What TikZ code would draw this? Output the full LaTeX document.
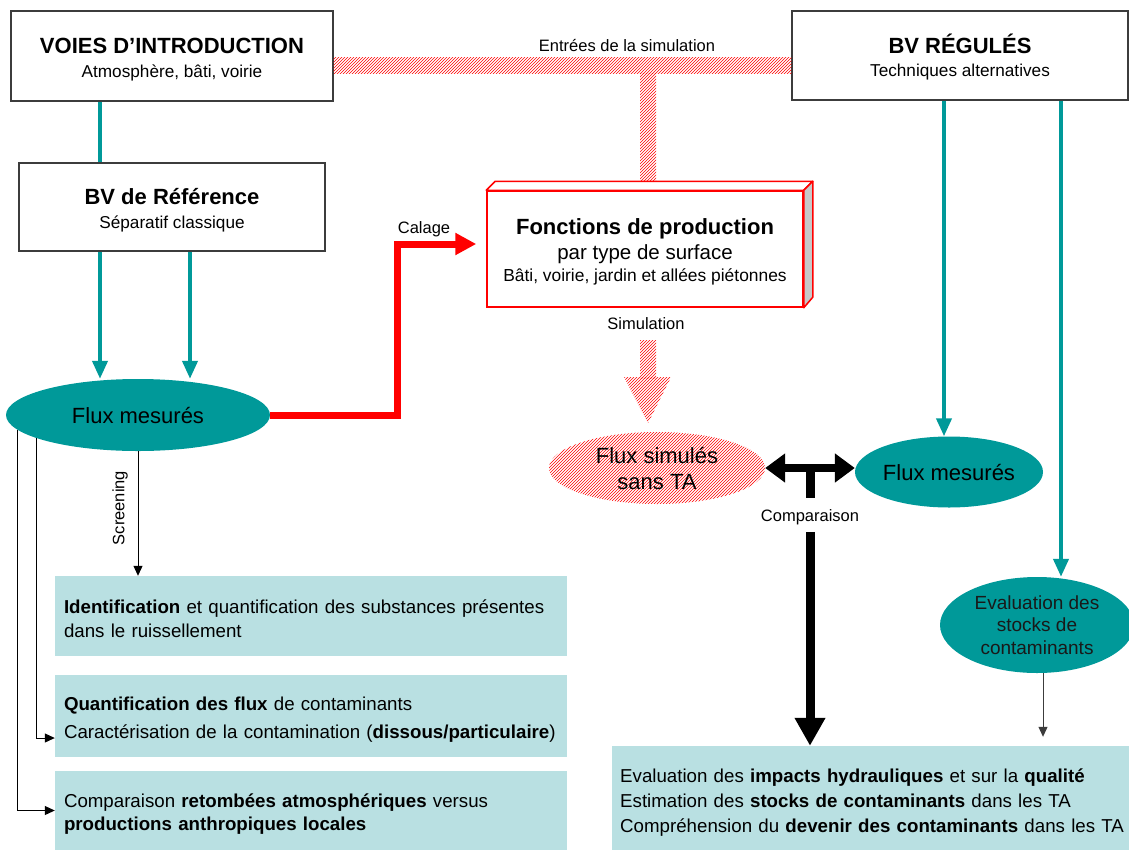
\documentclass[tikz,border=0pt]{standalone}
\usepackage{fontspec}
\setmainfont{Liberation Sans}
\usetikzlibrary{arrows.meta,shapes.geometric,patterns,calc}
\definecolor{tealc}{RGB}{0,153,153}
\definecolor{lblue}{RGB}{185,224,226}
\definecolor{framec}{RGB}{60,60,60}
\definecolor{sidegray}{RGB}{200,200,200}
\begin{document}
\begin{tikzpicture}[x=1pt,y=-1pt,
  topbox/.style={draw=framec, line width=1.4pt, fill=white, inner sep=0pt, align=center,
    font=\fontsize{17.2}{26}\selectfont},
  infobox/.style={fill=lblue, inner ysep=0pt, align=left, font=\fontsize{18.7}{24}\selectfont},
  tealell/.style={ellipse, fill=tealc, inner sep=0pt, align=center},
  hatch/.style={pattern=north east lines, pattern color=red},
  lbl/.style={inner sep=0pt, font=\fontsize{16.5}{20}\selectfont},
  tealline/.style={draw=tealc, line width=4pt},
  tealarrow/.style={draw=tealc, line width=4pt, -{Triangle[length=18pt,width=15pt]}},
  thinarrow/.style={draw=black, line width=1pt, -{Triangle[length=10pt,width=9pt]}},
  bigline/.style={draw=black, line width=9pt}
]
\useasboundingbox (0,0) rectangle (1129,849);

% top boxes and hatched "Entrées de la simulation" bar with stem
\node[topbox, minimum width=322pt, minimum height=90pt] (voies) at (172,56)
  {{\rule{0pt}{22pt}\fontsize{22}{26}\selectfont\bfseries VOIES D’INTRODUCTION}\\[-2pt]Atmosphère, bâti, voirie};
\node[topbox, minimum width=336pt, minimum height=89pt] (bvreg) at (960,55.5)
  {{\rule{0pt}{22pt}\fontsize{22}{26}\selectfont\bfseries BV RÉGULÉS}\\[-3pt]Techniques alternatives};
\fill[hatch] (voies.east |- 0,57) rectangle (bvreg.west |- 0,73);
\fill[hatch] (640,73) rectangle (656,184);
\node[lbl] (entrees) at (627,46) {Entrées de la simulation};

\node[topbox, minimum width=306pt, minimum height=88pt] (bvref) at (172,207)
  {{\rule{0pt}{22pt}\fontsize{22}{26}\selectfont\bfseries BV de Référence}\\[-2pt]Séparatif classique};

% 3D box "Fonctions de production"
\node[draw=red, line width=1.5pt, fill=white, minimum width=316pt, minimum height=116pt,
  inner sep=0pt, align=center, font=\fontsize{17.4}{24}\selectfont] (fonc) at (645,249)
  {{\rule{0pt}{22pt}\fontsize{22}{26}\selectfont\bfseries Fonctions de production}\\[1pt]
   {\fontsize{20.5}{24}\selectfont par type de surface}\\[-2pt]
   Bâti, voirie, jardin et allées piétonnes};
\draw[red, line width=1.5pt, fill=white, line join=round]
  (fonc.north west) -- ++(9,-9) -- ([xshift=9pt,yshift=9pt]fonc.north east) -- (fonc.north east) -- cycle;
\draw[red, line width=1.5pt, fill=sidegray, line join=round]
  (fonc.north east) -- ++(9,-9) -- ++(0,116) -- (fonc.south east) -- cycle;

% ellipses
\node[tealell, minimum width=264pt, minimum height=72pt, font=\fontsize{22}{26}\selectfont]
  (fluxL) at (138,415) {Flux mesurés};
\node[ellipse, hatch, inner sep=0pt, align=center, minimum width=216pt, minimum height=72pt,
  font=\fontsize{22}{26}\selectfont] (fluxS) at (657,468) {Flux simulés\\sans TA};
\node[tealell, minimum width=188pt, minimum height=71pt, font=\fontsize{22}{26}\selectfont]
  (fluxR) at (949,472) {Flux mesurés};
\node[tealell, minimum width=194pt, minimum height=96pt, font=\fontsize{19}{22.5}\selectfont,
  text=black!90] (eval) at (1037,625) {Evaluation des\\stocks de\\contaminants};

% info boxes
\node[infobox, minimum width=512pt, minimum height=80pt, inner xsep=9pt, text width=494pt]
  (box1) at (311,616)
  {\rule{0pt}{20pt}\textbf{Identification} et quantification des substances présentes\\dans le ruissellement};
\node[infobox, minimum width=512pt, minimum height=82pt, inner xsep=9pt, text width=494pt]
  (box2) at (311,716)
  {\rule{0pt}{20pt}\textbf{Quantification des flux} de contaminants\\[4pt]Caractérisation de la contamination (\textbf{dissous/particulaire})};
\node[infobox, minimum width=512pt, minimum height=79pt, inner xsep=9pt, text width=494pt]
  (box3) at (311,810.5)
  {\rule{0pt}{20pt}Comparaison \textbf{retombées atmosphériques} versus\\[-1pt]\textbf{productions anthropiques locales}};
\node[infobox, anchor=west, minimum height=104pt, inner xsep=8pt, text width=530pt]
  (boxR) at (612,798)
  {\rule{0pt}{23pt}Evaluation des \textbf{impacts hydrauliques} et sur la \textbf{qualité}\\[1.5pt]
   Estimation des \textbf{stocks de contaminants} dans les TA\\[1pt]
   Compréhension du \textbf{devenir des contaminants} dans les TA};

% teal connectors
\draw[tealline] ([xshift=-72pt]voies.south) -- ([xshift=-72pt]voies.south |- bvref.north);
\draw[tealarrow] ([xshift=-72pt]bvref.south) -- ([xshift=-72pt]bvref.south |- fluxL.north);
\draw[tealarrow] ([xshift=18pt]bvref.south) -- ([xshift=18pt]bvref.south |- fluxL.north);
\draw[tealarrow] ([xshift=-16pt]bvreg.south) -- ([xshift=-16pt]bvreg.south |- fluxR.north);
\draw[tealarrow] ([xshift=101pt]bvreg.south) -- ([xshift=101pt]bvreg.south |- eval.north);

% calage
\draw[red, line width=7pt, -{Triangle[length=21pt,width=21pt]}]
  (fluxL.east) -- ++(127,0) |- ([xshift=-10pt,yshift=5pt]fonc.west);
\node[lbl] (calage) at (424,229) {Calage};

% simulation
\node[lbl] (simul) at (646,324) {Simulation};
\fill[hatch] (640,340) rectangle (656,378);
\fill[hatch] (624,377) -- (671,377) -- (648,423) -- cycle;

% comparaison
\draw[line width=8pt, {Triangle[length=20pt,width=28pt]}-{Triangle[length=20pt,width=28pt]}]
  (fluxS.east) -- (fluxS.east -| fluxR.west);
\coordinate (cmpmid) at ($(fluxS.east)!0.5!(fluxS.east -| fluxR.west)$);
\node[lbl] (cmplabel) at (cmpmid |- 0,517) {Comparaison};
\draw[bigline, shorten >=11pt] (cmpmid) -- (cmplabel.north);
\draw[bigline, -{Triangle[length=28pt,width=29pt]}, shorten <=7pt]
  (cmplabel.south) -- (cmplabel.south |- boxR.north);

% thin arrows
\draw[thinarrow] (fluxL.south) -- (fluxL.south |- box1.north);
\node[lbl, rotate=90] (screen) at (120,508) {Screening};
\draw[thinarrow] (fluxL.193) |- ([yshift=-22pt]box2.west);
\draw[thinarrow] (fluxL.187.5) |- (box3.west);
\draw[thinarrow, draw=framec, shorten >=9pt] ([xshift=6pt]eval.south) -- ([xshift=6pt]eval.south |- boxR.north);
\end{tikzpicture}
\end{document}
